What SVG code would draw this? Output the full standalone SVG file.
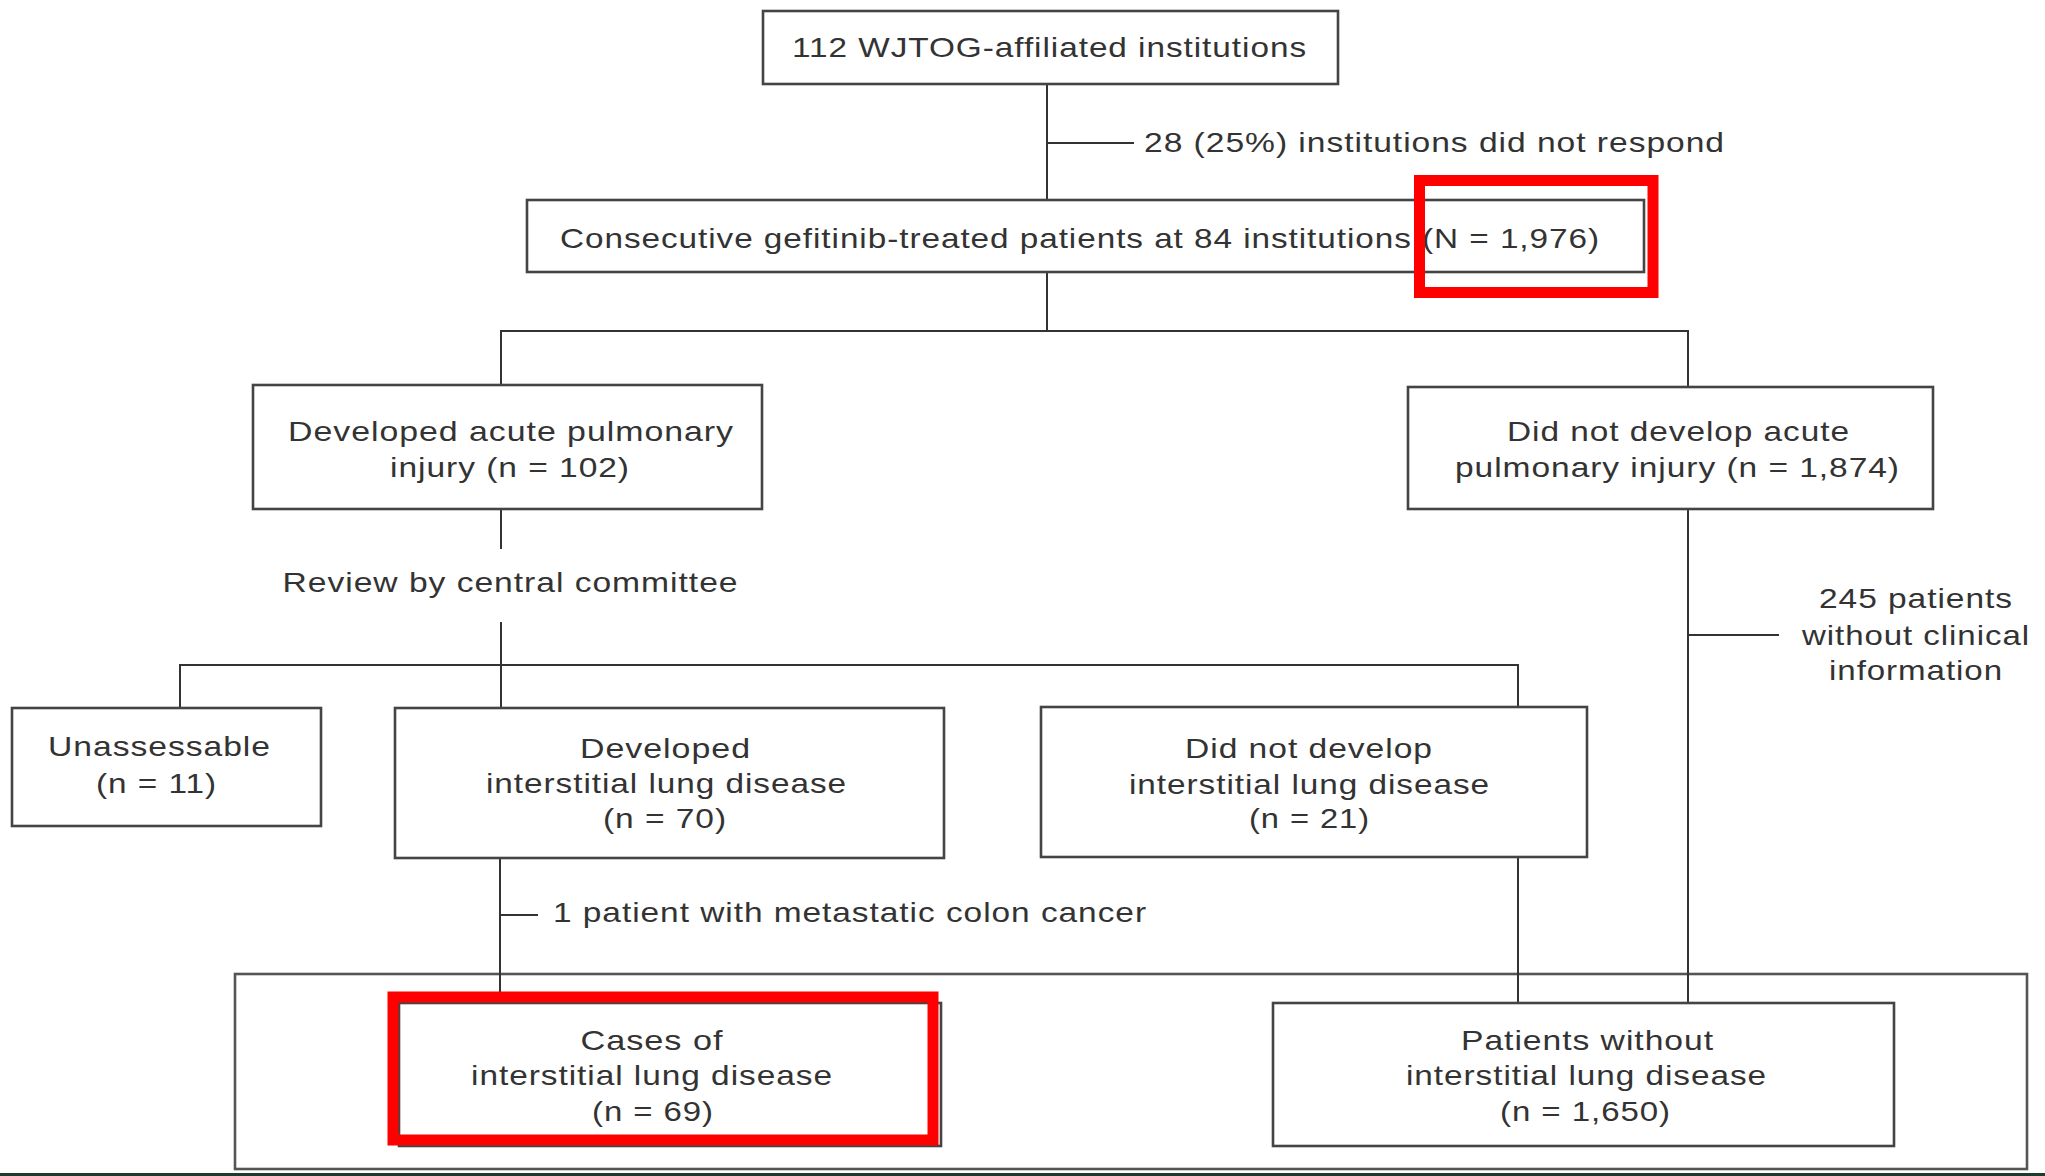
<svg xmlns="http://www.w3.org/2000/svg" width="2045" height="1176" viewBox="0 0 2045 1176">
<style>
.box{fill:#fff;stroke:#444;stroke-width:2.6}
.outer{fill:none;stroke:#555;stroke-width:2.6}
.red{fill:none;stroke:#ff0000;stroke-width:11}
.c{fill:none;stroke:#333;stroke-width:2}
text{font-family:"Liberation Sans",Arial,Helvetica,sans-serif;font-size:28px;letter-spacing:0.8px;fill:#333}
.m{text-anchor:middle}
</style>
<rect x="0" y="0" width="2045" height="1176" fill="#fff"/>
<g id="outer-group"><rect class="outer" x="235" y="974" width="1792" height="195"/></g>
<g id="connectors">
<line class="c" x1="1047" y1="84" x2="1047" y2="200"/>
<line class="c" x1="1047" y1="143" x2="1134" y2="143"/>
<line class="c" x1="1047" y1="272" x2="1047" y2="331"/>
<line class="c" x1="500" y1="331" x2="1689" y2="331"/>
<line class="c" x1="501" y1="331" x2="501" y2="385"/>
<line class="c" x1="1688" y1="331" x2="1688" y2="387"/>
<line class="c" x1="501" y1="509" x2="501" y2="549"/>
<line class="c" x1="501" y1="622" x2="501" y2="708"/>
<line class="c" x1="179" y1="665" x2="1519" y2="665"/>
<line class="c" x1="180" y1="665" x2="180" y2="708"/>
<line class="c" x1="1518" y1="665" x2="1518" y2="707"/>
<line class="c" x1="1688" y1="509" x2="1688" y2="1003"/>
<line class="c" x1="1688" y1="635" x2="1779" y2="635"/>
<line class="c" x1="500" y1="858" x2="500" y2="1003"/>
<line class="c" x1="500" y1="915" x2="538" y2="915"/>
<line class="c" x1="1518" y1="857" x2="1518" y2="1003"/>
</g>
<g id="n-institutions"><rect class="box" x="763" y="11" width="575" height="73"/>
<text class="m" x="1049.5" y="57" textLength="515" lengthAdjust="spacingAndGlyphs">112 WJTOG-affiliated institutions</text></g>
<g id="n-norespond"><text x="1144" y="152" textLength="581" lengthAdjust="spacingAndGlyphs">28 (25%) institutions did not respond</text></g>
<g id="n-consecutive"><rect class="box" x="527" y="200" width="1117" height="72"/>
<text x="560" y="248" textLength="1040" lengthAdjust="spacingAndGlyphs">Consecutive gefitinib-treated patients at 84 institutions (N = 1,976)</text></g>
<g id="n-api"><rect class="box" x="253" y="385" width="509" height="124"/>
<text class="m" x="511" y="441" textLength="446" lengthAdjust="spacingAndGlyphs">Developed acute pulmonary</text>
<text class="m" x="510" y="477" textLength="240" lengthAdjust="spacingAndGlyphs">injury (n = 102)</text></g>
<g id="n-noapi"><rect class="box" x="1408" y="387" width="525" height="122"/>
<text class="m" x="1678.5" y="441" textLength="343" lengthAdjust="spacingAndGlyphs">Did not develop acute</text>
<text class="m" x="1677.5" y="477" textLength="445" lengthAdjust="spacingAndGlyphs">pulmonary injury (n = 1,874)</text></g>
<g id="n-review"><text class="m" x="510.5" y="592" textLength="456" lengthAdjust="spacingAndGlyphs">Review by central committee</text></g>
<g id="n-245"><text class="m" x="1916" y="608" textLength="194" lengthAdjust="spacingAndGlyphs">245 patients</text>
<text class="m" x="1916" y="645" textLength="228" lengthAdjust="spacingAndGlyphs">without clinical</text>
<text class="m" x="1916" y="680" textLength="174" lengthAdjust="spacingAndGlyphs">information</text></g>
<g id="n-unassess"><rect class="box" x="12" y="708" width="309" height="118"/>
<text class="m" x="159.5" y="756" textLength="223" lengthAdjust="spacingAndGlyphs">Unassessable</text>
<text class="m" x="156.5" y="793" textLength="121" lengthAdjust="spacingAndGlyphs">(n = 11)</text></g>
<g id="n-ild"><rect class="box" x="395" y="708" width="549" height="150"/>
<text class="m" x="665.5" y="758" textLength="171" lengthAdjust="spacingAndGlyphs">Developed</text>
<text class="m" x="666.5" y="793" textLength="361" lengthAdjust="spacingAndGlyphs">interstitial lung disease</text>
<text class="m" x="665" y="828" textLength="124" lengthAdjust="spacingAndGlyphs">(n = 70)</text></g>
<g id="n-noild"><rect class="box" x="1041" y="707" width="546" height="150"/>
<text class="m" x="1309" y="758" textLength="248" lengthAdjust="spacingAndGlyphs">Did not develop</text>
<text class="m" x="1309.5" y="794" textLength="361" lengthAdjust="spacingAndGlyphs">interstitial lung disease</text>
<text class="m" x="1309.5" y="828" textLength="121" lengthAdjust="spacingAndGlyphs">(n = 21)</text></g>
<g id="n-colon"><text x="553" y="922" textLength="594" lengthAdjust="spacingAndGlyphs">1 patient with metastatic colon cancer</text></g>
<g id="n-cases"><rect class="box" x="399" y="1003" width="542" height="143"/>
<text class="m" x="652" y="1050" textLength="143" lengthAdjust="spacingAndGlyphs">Cases of</text>
<text class="m" x="652" y="1085" textLength="362" lengthAdjust="spacingAndGlyphs">interstitial lung disease</text>
<text class="m" x="653" y="1121" textLength="122" lengthAdjust="spacingAndGlyphs">(n = 69)</text></g>
<g id="n-without"><rect class="box" x="1273" y="1003" width="621" height="143"/>
<text class="m" x="1587.5" y="1050" textLength="253" lengthAdjust="spacingAndGlyphs">Patients without</text>
<text class="m" x="1586.5" y="1085" textLength="361" lengthAdjust="spacingAndGlyphs">interstitial lung disease</text>
<text class="m" x="1585.5" y="1121" textLength="171" lengthAdjust="spacingAndGlyphs">(n = 1,650)</text></g>
<g id="highlights">
<rect class="red" x="1419.5" y="180.5" width="233.5" height="112"/>
<rect class="red" x="393" y="997" width="540" height="143"/>
</g>
<rect x="0" y="1173" width="2045" height="3" fill="#1e3b2b"/>
</svg>
